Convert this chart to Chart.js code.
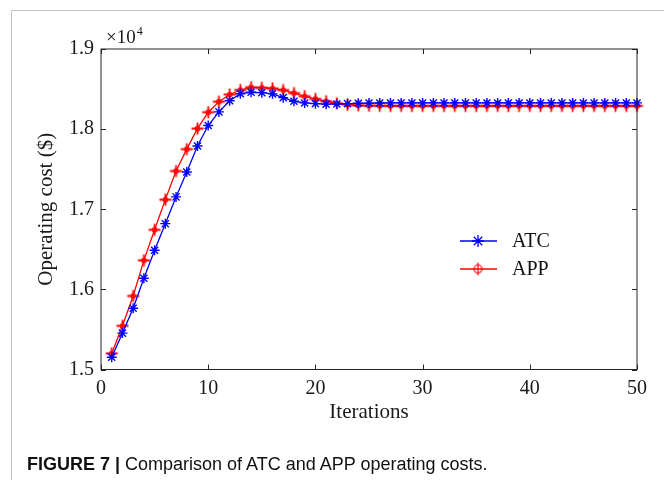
<!DOCTYPE html>
<html>
<head>
<meta charset="utf-8">
<script src="https://cdn.jsdelivr.net/npm/chart.js@4/dist/chart.umd.min.js"></script>
<style>
  html, body { margin: 0; padding: 0; background: #fff; }
  #wrap { position: relative; width: 664px; height: 480px; overflow: hidden; background: #fff; }
  #frame { position: absolute; left: 11px; top: 10px; width: 700px; height: 500px;
           border-left: 1.5px solid #c4c4c4; border-top: 1.5px solid #c4c4c4; }
  #c { position: absolute; left: 0; top: 0; }
  #cap { position: absolute; left: 27px; top: 452px; font-family: "Liberation Sans", Arial, sans-serif;
         font-size: 18px; line-height: 24px; color: #111; white-space: nowrap; }
  #cap b { font-weight: bold; }
</style>
</head>
<body>
<div id="wrap">
  <div id="frame"></div>
  <canvas id="c" width="664" height="480"></canvas>
  <div id="cap"><b>FIGURE 7 |</b> Comparison of ATC and APP operating costs.</div>
</div>
<script>
const iterations = [1,2,3,4,5,6,7,8,9,10,11,12,13,14,15,16,17,18,19,20,21,22,23,24,25,
                    26,27,28,29,30,31,32,33,34,35,36,37,38,39,40,41,42,43,44,45,46,47,48,49,50];
const atcCost = [15152,15454,15765,16138,16488,16820,17154,17465,17790,18045,
                 18215,18354,18442,18460,18455,18440,18393,18348,18327,18318,
                 18312,18314,18318,18322,18325,18326,18327,18327,18327,18327,
                 18327,18327,18327,18327,18327,18327,18327,18327,18327,18327,
                 18327,18327,18327,18327,18327,18327,18327,18327,18327,18327];
const appCost = [15201,15545,15918,16362,16744,17120,17477,17750,18007,18211,
                 18343,18432,18488,18522,18517,18508,18488,18450,18410,18377,
                 18348,18323,18305,18297,18293,18291,18290,18290,18290,18290,
                 18290,18290,18290,18290,18290,18290,18290,18290,18290,18290,
                 18290,18290,18290,18290,18290,18290,18290,18290,18290,18290];
const xTicks = [0,10,20,30,40,50];
const yTicks = [15000,16000,17000,18000,19000];
const seriesNames = ["ATC","APP"];

const serif = "'Liberation Serif', 'Times New Roman', serif";

// red marker: small circle with plus
function makeAppMarker(){
  const s = 15, c = document.createElement('canvas');
  c.width = s; c.height = s;
  const g = c.getContext('2d');
  g.strokeStyle = '#ff0000'; g.lineWidth = 1.3;
  g.beginPath(); g.arc(7.5,7.5,2.2,0,Math.PI*2); g.stroke();
  g.lineWidth = 1.8;
  g.beginPath(); g.moveTo(1.5,7.5); g.lineTo(13.5,7.5); g.moveTo(7.5,1.5); g.lineTo(7.5,13.5); g.stroke();
  return c;
}
function makeAppLegendMarker(){
  const s = 17, c = document.createElement('canvas');
  c.width = s; c.height = s;
  const g = c.getContext('2d');
  g.strokeStyle = '#ff0000'; g.lineWidth = 1.2;
  g.beginPath(); g.arc(8.5,8.5,4,0,Math.PI*2); g.stroke();
  g.beginPath(); g.moveTo(8.5,2); g.lineTo(8.5,15); g.stroke();
  return c;
}
const appMarker = makeAppMarker();
const appLegendMarker = makeAppLegendMarker();

const boxPlugin = {
  id: 'boxPlugin',
  afterDraw(chart){
    const {ctx, chartArea:a, scales} = chart;
    const xs = scales.x, ys = scales.y;
    ctx.save();
    ctx.strokeStyle = '#262626'; ctx.lineWidth = 1;
    ctx.strokeRect(a.left, a.top, a.right - a.left, a.bottom - a.top);
    ctx.beginPath();
    const tl = 5;
    xTicks.forEach(v => {
      const px = Math.round(xs.getPixelForValue(v)) + 0.5;
      ctx.moveTo(px, a.bottom); ctx.lineTo(px, a.bottom - tl);
      ctx.moveTo(px, a.top); ctx.lineTo(px, a.top + tl);
    });
    yTicks.forEach(v => {
      const py = Math.round(ys.getPixelForValue(v)) + 0.5;
      ctx.moveTo(a.left, py); ctx.lineTo(a.left + tl, py);
      ctx.moveTo(a.right, py); ctx.lineTo(a.right - tl, py);
    });
    ctx.stroke();
    // exponent label
    ctx.fillStyle = '#1a1a1a';
    ctx.textBaseline = 'alphabetic';
    ctx.font = '19px ' + serif;
    ctx.fillText('\u00d710', a.left + 5, a.top - 6);
    const w = ctx.measureText('\u00d710').width;
    ctx.font = '12px ' + serif;
    ctx.fillText('4', a.left + 6 + w, a.top - 14);

    // legend
    const lx0 = 460, lx1 = 497, mx = 478, tx = 512;
    const rows = [{y: 241, color: '#0000ff', name: seriesNames[0], m: 'star'},
                  {y: 269, color: '#ff0000', name: seriesNames[1], m: 'app'}];
    rows.forEach(r => {
      ctx.strokeStyle = r.color; ctx.lineWidth = 1.3;
      ctx.beginPath(); ctx.moveTo(lx0, r.y); ctx.lineTo(lx1, r.y); ctx.stroke();
      if (r.m === 'star') {
        Chart.helpers.drawPoint(ctx, {pointStyle:'star', radius:6, borderWidth:1.3, rotation:0}, mx, r.y);
      } else {
        ctx.drawImage(appLegendMarker, mx - 8.5, r.y - 8.5);
      }
      ctx.fillStyle = '#111';
      ctx.font = '20px ' + serif;
      ctx.textBaseline = 'middle';
      ctx.fillText(r.name, tx, r.y + 1);
    });
    ctx.restore();
  }
};

new Chart(document.getElementById('c'), {
  type: 'line',
  data: {
    labels: iterations,
    datasets: [
      { label: seriesNames[0], data: iterations.map((x,i)=>({x, y: atcCost[i]})),
        borderColor: '#0000ff', backgroundColor: '#0000ff', borderWidth: 1.3,
        pointStyle: 'star', pointRadius: 5, pointBorderWidth: 1.4, pointBorderColor: '#0000ff',
        tension: 0, clip: false },
      { label: seriesNames[1], data: iterations.map((x,i)=>({x, y: appCost[i]})),
        borderColor: '#ff0000', backgroundColor: '#ff0000', borderWidth: 1.3,
        pointStyle: appMarker, pointRadius: 6,
        tension: 0, clip: false }
    ]
  },
  options: {
    responsive: false,
    animation: false,
    events: [],
    layout: { padding: { left: 28, top: 49, right: 27, bottom: 52 } },
    plugins: { legend: { display: false }, tooltip: { enabled: false } },
    scales: {
      x: {
        type: 'linear', min: 0, max: 50,
        afterFit(s){ s.height = 58.5; },
        afterBuildTicks(s){ s.ticks = xTicks.map(v => ({value: v})); },
        grid: { display: false, drawTicks: false },
        border: { display: false },
        ticks: { padding: 7, color: '#1a1a1a', font: { family: serif, size: 20 }, maxRotation: 0 },
        title: { display: true, text: 'Iterations', color: '#1a1a1a', font: { family: serif, size: 21 }, padding: {top: 0, bottom: 3} }
      },
      y: {
        min: 15000, max: 19000,
        afterFit(s){ s.width = 73; },
        afterBuildTicks(s){ s.ticks = yTicks.map(v => ({value: v})); },
        grid: { display: false, drawTicks: false },
        border: { display: false },
        ticks: { padding: 7, color: '#1a1a1a', font: { family: serif, size: 20 },
                 callback: v => (v / 10000).toFixed(1) },
        title: { display: true, text: 'Operating cost ($)', color: '#1a1a1a', font: { family: serif, size: 21 }, padding: {top: 6, bottom: 0} }
      }
    }
  },
  plugins: [boxPlugin]
});
</script>
</body>
</html>
